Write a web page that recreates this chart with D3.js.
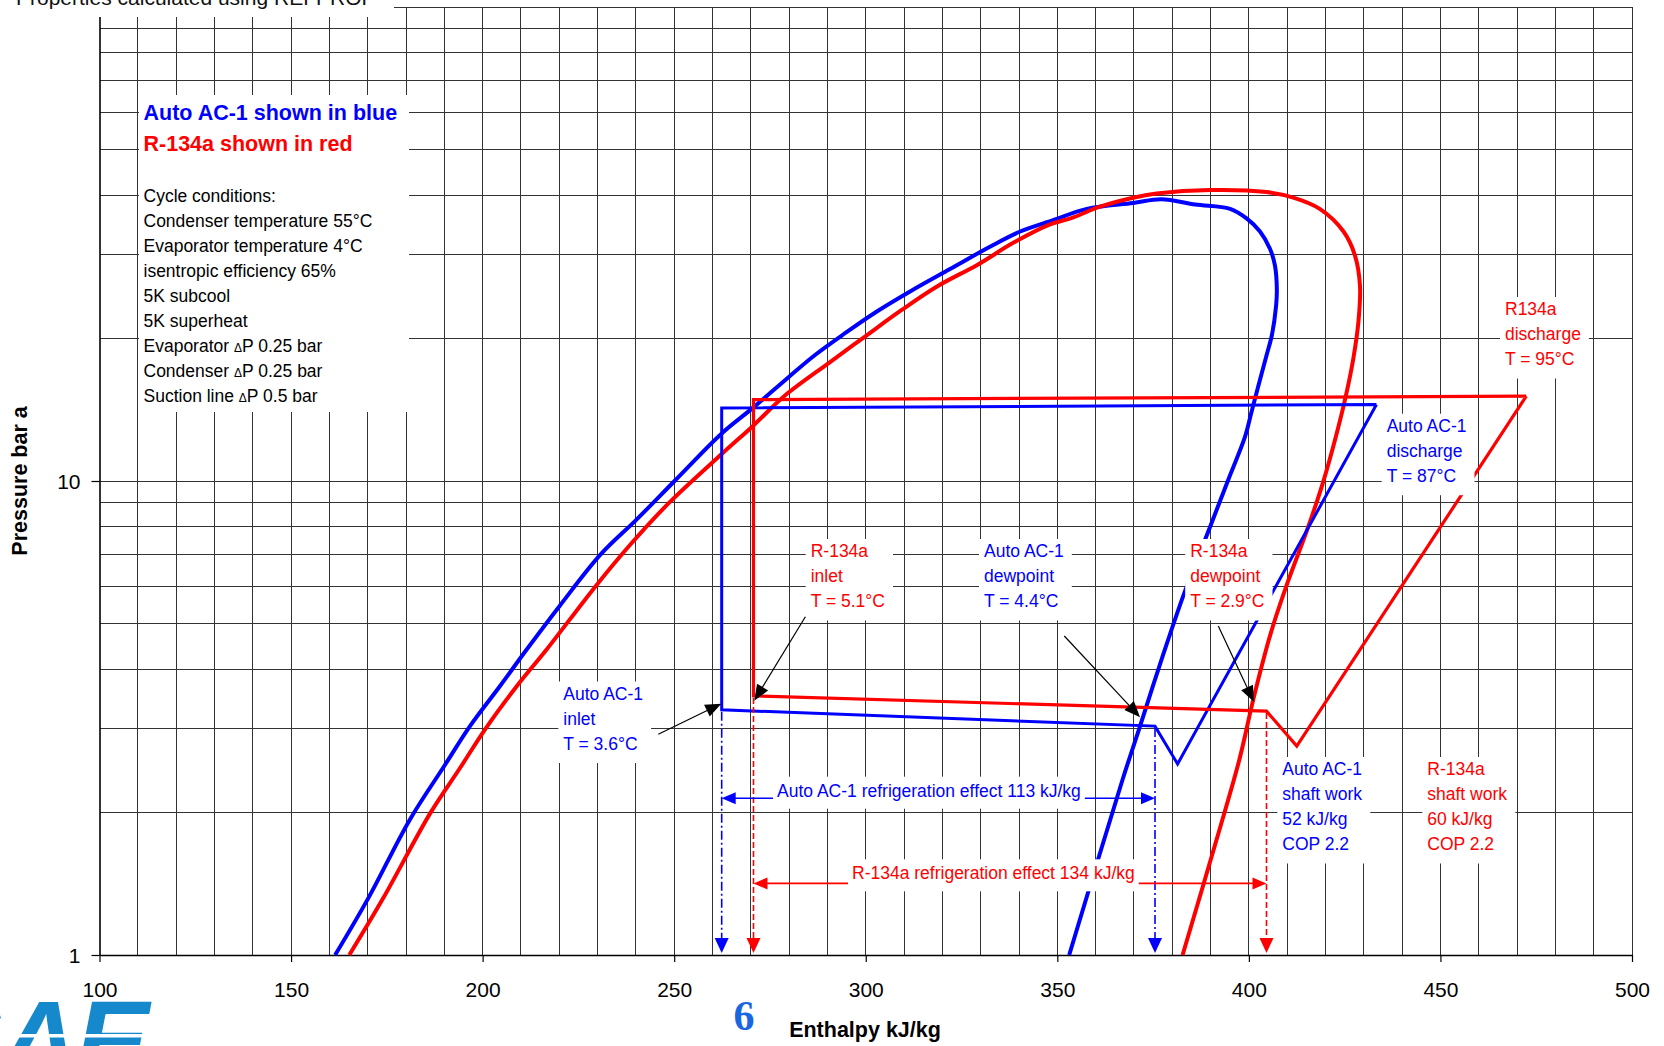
<!DOCTYPE html>
<html>
<head>
<meta charset="utf-8">
<script src="https://cdn.jsdelivr.net/npm/d3@7"></script>
<style>
  html, body { margin: 0; padding: 0; background: #fff; }
  svg { display: block; font-family: "Liberation Sans", Arial, Helvetica, sans-serif; }
</style>
</head>
<body>
<svg id="chart" width="1664" height="1046"></svg>
<script>
// ---------------- data ----------------
const enthalpyTicks = [100, 150, 200, 250, 300, 350, 400, 450, 500];
const pressureTicks = [1, 10];

// Saturation domes, [enthalpy kJ/kg, pressure bar a], liquid side -> critical region -> vapour side
const autoDome = [
  [161.5, 1.00], [170.2, 1.32], [181.0, 1.93], [190.2, 2.52], [196.7, 3.04], [204.5, 3.69],
  [211.5, 4.41], [220.1, 5.45], [230.8, 7.00], [240.1, 8.28], [250.1, 10.0], [262.4, 12.6],
  [270.7, 14.3], [280.0, 16.6], [286.6, 18.4], [294.6, 20.5], [302.6, 22.7], [311.9, 25.2],
  [322.0, 28.0], [332.4, 31.2], [340.3, 33.6], [348.9, 35.5], [357.7, 37.5], [369.8, 38.6],
  [377.2, 39.3], [386.0, 38.3], [395.1, 37.5], [399.4, 35.8], [402.9, 33.6], [405.5, 30.9],
  [406.8, 28.5], [407.3, 25.4], [407.1, 23.4], [406.0, 20.3], [404.6, 18.4], [402.5, 15.9],
  [400.7, 14.0], [399.0, 12.4], [394.7, 10.1], [389.1, 7.71], [383.3, 5.85], [377.5, 4.27],
  [371.6, 3.04], [367.0, 2.34], [353.1, 1.00]
];
const r134aDome = [
  [165.2, 1.00], [174.1, 1.32], [186.3, 1.99], [194.1, 2.48], [200.6, 2.99], [208.9, 3.69],
  [216.7, 4.41], [229.5, 6.00], [238.8, 7.38], [248.7, 9.00], [262.4, 11.4], [270.7, 13.1],
  [278.7, 15.1], [290.6, 17.8], [299.9, 20.2], [309.2, 22.9], [318.5, 25.7], [329.2, 28.6],
  [338.5, 31.8], [347.8, 34.7], [354.2, 36.0], [361.1, 37.9], [369.8, 39.6], [375.9, 40.4],
  [389.9, 41.1], [404.6, 40.7], [411.6, 39.6], [418.5, 37.5], [424.7, 33.6], [427.7, 29.9],
  [429.0, 25.8], [428.6, 21.7], [427.3, 18.2], [425.3, 15.1], [422.7, 12.4], [419.3, 9.9],
  [415.0, 7.8], [410.4, 6.2], [405.8, 4.8], [401.3, 3.5], [397.5, 2.58], [392.0, 1.8],
  [382.7, 1.00]
];

// Vapour-compression cycles: discharge -> condenser exit -> evaporator inlet -> evaporator exit -> suction -> discharge
const autoCycle  = [[433.3, 14.5], [262.4, 14.25], [262.4, 3.29], [375.5, 3.04], [381.4, 2.53], [433.3, 14.5]];
const r134aCycle = [[472.4, 15.1], [270.7, 14.85], [270.7, 3.52], [404.6, 3.27], [412.5, 2.76], [472.4, 15.1]];

// Callout arrow targets, [enthalpy, pressure]
const autoInletPoint    = [262.3, 3.39];
const r134aInletPoint   = [270.9, 3.44];
const autoDewPoint      = [371.6, 3.175];
const r134aDewPoint     = [401.3, 3.42];

// Pressure levels of the refrigeration-effect dimension arrows
const autoEffectLevel  = 2.142;
const r134aEffectLevel = 1.416;

const legendTitles = ["Auto AC-1 shown in blue", "R-134a shown in red"];
const conditions = [
  "Cycle conditions:", "Condenser temperature 55°C", "Evaporator temperature 4°C",
  "isentropic efficiency 65%", "5K subcool", "5K superheat",
  "Evaporator ΔP 0.25 bar", "Condenser ΔP 0.25 bar", "Suction line ΔP 0.5 bar"
];

// ---------------- setup ----------------
const BLUE = "#0000ff", RED = "#ff0000";
const svg = d3.select("#chart");
const x = d3.scaleLinear().domain([100, 500]).range([99.5, 1632]);
const y = d3.scaleLog().domain([1, 100]).range([955, 7]);

// ---------------- grid ----------------
const grid = svg.append("g").attr("stroke", "#333").attr("stroke-width", 1).attr("shape-rendering", "crispEdges");
const hGrid = [2, 3, 4, 5, 6, 7, 8, 9, 10, 20, 30, 40, 50, 60, 70, 80, 90, 100];
grid.selectAll(".h").data(hGrid).join("line")
  .attr("x1", x(100)).attr("x2", x(500)).attr("y1", d => y(d)).attr("y2", d => y(d));
grid.selectAll(".v").data(d3.range(110, 501, 10)).join("line")
  .attr("x1", d => x(d)).attr("x2", d => x(d)).attr("y1", y(100)).attr("y2", y(1));

// ---------------- axes ----------------
const xAxis = svg.append("g").attr("transform", `translate(0,${y(1)})`)
  .call(d3.axisBottom(x).tickValues(enthalpyTicks).tickSize(7).tickSizeOuter(0).tickPadding(20).tickFormat(d3.format("d")));
const yAxis = svg.append("g").attr("transform", `translate(${x(100)},0)`)
  .call(d3.axisLeft(y).tickValues(pressureTicks).tickSize(8).tickSizeOuter(0).tickPadding(11).tickFormat(d3.format("d")));
[xAxis, yAxis].forEach(a => {
  a.selectAll("text").style("font-size", "21px").style("font-family", "'Liberation Sans', Arial, sans-serif").attr("fill", "#000");
  a.selectAll("line").attr("stroke", "#000").attr("stroke-width", 1.2);
  a.select(".domain").attr("stroke", "#000").attr("stroke-width", 1.6);
});
yAxis.selectAll("text").attr("dy", "0.36em");

svg.append("text").attr("x", 865).attr("y", 1037).attr("text-anchor", "middle")
  .style("font-size", "21.5px").style("font-weight", "bold").text("Enthalpy kJ/kg");
svg.append("text").attr("transform", "translate(27,481) rotate(-90)").attr("text-anchor", "middle")
  .style("font-size", "21.5px").style("font-weight", "bold").text("Pressure bar a");

// ---------------- domes and cycles ----------------
const domeLine = d3.line().x(d => x(d[0])).y(d => y(d[1])).curve(d3.curveCatmullRom.alpha(0.5));
const cycleLine = d3.line().x(d => x(d[0])).y(d => y(d[1]));
const marks = svg.append("g").attr("fill", "none");
marks.append("path").datum(autoDome).attr("d", domeLine).attr("stroke", BLUE).attr("stroke-width", 4).attr("stroke-linejoin", "round");
marks.append("path").datum(r134aDome).attr("d", domeLine).attr("stroke", RED).attr("stroke-width", 4).attr("stroke-linejoin", "round");
marks.append("path").datum(autoCycle).attr("d", cycleLine).attr("stroke", BLUE).attr("stroke-width", 3).attr("stroke-linejoin", "miter");
marks.append("path").datum(r134aCycle).attr("d", cycleLine).attr("stroke", RED).attr("stroke-width", 3.2).attr("stroke-linejoin", "miter");

// ---------------- refrigeration effect dimensions ----------------
function tri(g, tipX, tipY, dx, dy, len, half, color) {
  const bx = tipX - dx * len, by = tipY - dy * len;
  const nx = -dy, ny = dx;
  g.append("path")
    .attr("d", `M${tipX},${tipY}L${bx + nx * half},${by + ny * half}L${bx - nx * half},${by - ny * half}Z`)
    .attr("fill", color).attr("stroke", "none");
}
const dims = svg.append("g");
function dropLine(h, p, color, dash) {
  const px = x(h), top = y(p) + 2, tipY = y(1) - 2;
  dims.append("line").attr("x1", px).attr("x2", px).attr("y1", top).attr("y2", tipY - 14)
    .attr("stroke", color).attr("stroke-width", 1.6).attr("stroke-dasharray", dash);
  tri(dims, px, tipY, 0, 1, 15, 7, color);
}
dropLine(autoCycle[2][0], autoCycle[2][1], BLUE, "9,3,2,3");
dropLine(autoCycle[3][0], autoCycle[3][1], BLUE, "9,3,2,3");
dropLine(r134aCycle[2][0], r134aCycle[2][1], RED, "6,3");
dropLine(r134aCycle[3][0], r134aCycle[3][1], RED, "6,3");

function spanArrow(h1, h2, p, color) {
  const x1 = x(h1), x2 = x(h2), py = y(p);
  dims.append("line").attr("x1", x1 + 12).attr("x2", x2 - 12).attr("y1", py).attr("y2", py)
    .attr("stroke", color).attr("stroke-width", 1.6);
  tri(dims, x1, py, -1, 0, 14, 6, color);
  tri(dims, x2, py, 1, 0, 14, 6, color);
}
spanArrow(autoCycle[2][0], autoCycle[3][0], autoEffectLevel, BLUE);
spanArrow(r134aCycle[2][0], r134aCycle[3][0], r134aEffectLevel, RED);

// ---------------- labels ----------------
const labels = svg.append("g").style("font-size", "17.5px");
function block(lines, color, x0, y0) {
  const g = labels.append("g");
  const rect = g.append("rect").attr("fill", "#fff");
  const t = g.append("text").attr("fill", color);
  lines.forEach((s, i) => t.append("tspan").attr("x", x0).attr("y", y0 + i * 25).text(s));
  const bb = t.node().getBBox();
  const bottom = y0 + (lines.length - 1) * 25 + 13.5;
  rect.attr("x", bb.x - 5).attr("y", y0 - 18).attr("width", bb.width + 13).attr("height", bottom - (y0 - 18));
}
function oneLine(text, color, x0, y0) {
  const g = labels.append("g");
  const rect = g.append("rect").attr("fill", "#fff");
  const t = g.append("text").attr("fill", color).attr("x", x0).attr("y", y0).text(text);
  const bb = t.node().getBBox();
  rect.attr("x", bb.x - 4).attr("y", y0 - 20).attr("width", bb.width + 8).attr("height", 32);
}
block(["R-134a", "inlet", "T = 5.1°C"], RED, 810.7, 557);
block(["Auto AC-1", "dewpoint", "T = 4.4°C"], BLUE, 984, 557);
block(["R-134a", "dewpoint", "T = 2.9°C"], RED, 1190.2, 557);
block(["Auto AC-1", "inlet", "T = 3.6°C"], BLUE, 563.3, 699.5);
block(["Auto AC-1", "discharge", "T = 87°C"], BLUE, 1386.7, 431.7);
block(["R134a", "discharge", "T = 95°C"], RED, 1505, 315);
block(["Auto AC-1", "shaft work", "52 kJ/kg", "COP 2.2"], BLUE, 1282.3, 775);
block(["R-134a", "shaft work", "60 kJ/kg", "COP 2.2"], RED, 1427.3, 775);
oneLine("Auto AC-1 refrigeration effect 113 kJ/kg", BLUE, 777, 796.7);
oneLine("R-134a refrigeration effect 134 kJ/kg", RED, 852, 879.3);

// ---------------- callout arrows ----------------
const callouts = svg.append("g");
function callout(tail, target) {
  const tx = x(target[0]), ty = y(target[1]);
  const dx = tx - tail[0], dy = ty - tail[1], len = Math.hypot(dx, dy);
  const ux = dx / len, uy = dy / len;
  callouts.append("line").attr("x1", tail[0]).attr("y1", tail[1])
    .attr("x2", tx - ux * 14).attr("y2", ty - uy * 14)
    .attr("stroke", "#000").attr("stroke-width", 1.2);
  tri(callouts, tx, ty, ux, uy, 16, 6.5, "#000");
}
callout([805.4, 616.7], r134aInletPoint);
callout([1064.3, 636], autoDewPoint);
callout([1218.3, 626], r134aDewPoint);
callout([658.3, 734.3], autoInletPoint);

// ---------------- legend ----------------
const legend = svg.append("g");
legend.append("rect").attr("x", 139).attr("y", 95).attr("width", 270).attr("height", 317).attr("fill", "#fff");
legend.selectAll(".title").data(legendTitles).join("text")
  .attr("x", 143.5).attr("y", (d, i) => 119.5 + i * 31)
  .attr("fill", (d, i) => i === 0 ? BLUE : RED)
  .style("font-size", "21.5px").style("font-weight", "bold").text(d => d);
conditions.forEach((s, i) => {
  const t = legend.append("text").attr("x", 143.5).attr("y", 201.7 + i * 25)
    .style("font-size", "17.5px").attr("fill", "#000");
  s.split("Δ").forEach((part, j) => {
    if (j > 0) t.append("tspan").style("font-size", "12px").text("Δ");
    t.append("tspan").text(part);
  });
});

// ---------------- header and page furniture ----------------
svg.append("rect").attr("x", 0).attr("y", 0).attr("width", 394).attr("height", 17).attr("fill", "#fff");
svg.append("text").attr("x", 16).attr("y", 4.5).style("font-size", "21px").attr("fill", "#111")
  .text("Properties calculated using REFPROP");

svg.append("text").attr("x", 744).attr("y", 1030).attr("text-anchor", "middle")
  .style("font-family", "'Liberation Serif', 'Times New Roman', serif").style("font-size", "42px")
  .style("font-weight", "bold").attr("fill", "#1a66e0").text("6");

const logo = svg.append("g");
logo.append("text").attr("x", 146).attr("y", 1077).attr("text-anchor", "end")
  .style("font-size", "110px").style("font-weight", "bold").style("font-style", "italic")
  .style("letter-spacing", "-3px").attr("fill", "#1589cc").text("SAE");
logo.append("rect").attr("x", 0).attr("y", 1034).attr("width", 160).attr("height", 3.5).attr("fill", "#fff");
</script>
</body>
</html>
